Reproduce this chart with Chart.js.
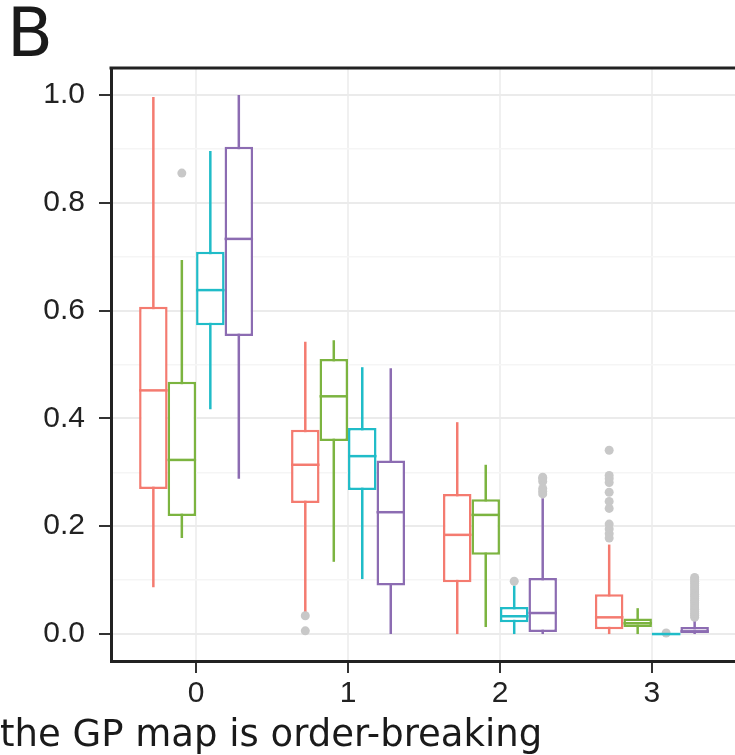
<!DOCTYPE html>
<html>
<head>
<meta charset="utf-8">
<script src="https://cdn.jsdelivr.net/npm/chart.js@4"></script>
<style>
  html, body { margin: 0; padding: 0; background: #fff; overflow: hidden; }
  #wrap { position: relative; width: 735px; height: 755px; overflow: hidden; }
  #c { position: absolute; left: 0; top: 0; }
  #panel { position: absolute; left: 7px; top: 0; font: 67px "DejaVu Sans"; line-height: 1; color: #1a1a1a; }
  #xtitle { position: absolute; left: 0; top: 715px; font: 37px "DejaVu Sans"; line-height: 1; color: #1a1a1a; white-space: nowrap; }
</style>
</head>
<body>
<div id="wrap">
  <canvas id="c" width="762" height="755"></canvas>
  <div id="panel">B</div>
  <div id="xtitle">the GP map is order-breaking</div>
</div>
<script>
// categories sur l'axe x
const categories = ['0', '1', '2', '3'];
const seriesColors = ['#F47B70', '#7CB440', '#20BCC8', '#8C6CB2'];

// stats des boites : une ligne par série (rouge, vert, cyan, violet), une colonne par catégorie
const lowerWhisker = [
  [0.087, 0.040, 0.000, 0.000],
  [0.178, 0.134, 0.013, 0.000],
  [0.417, 0.102, 0.000, 0.000],
  [0.288, 0.000, 0.000, 0.000]
];
const q1 = [
  [0.269, 0.243, 0.096, 0.009],
  [0.219, 0.358, 0.147, 0.013],
  [0.573, 0.267, 0.022, 0.000],
  [0.553, 0.090, 0.004, 0.000]
];
const medians = [
  [0.452, 0.314, 0.184, 0.031],
  [0.323, 0.441, 0.221, 0.020],
  [0.638, 0.330, 0.033, 0.000],
  [0.733, 0.226, 0.039, 0.005]
];
const q3 = [
  [0.607, 0.379, 0.260, 0.074],
  [0.468, 0.510, 0.250, 0.029],
  [0.709, 0.382, 0.050, 0.000],
  [0.904, 0.322, 0.104, 0.013]
];
const upperWhisker = [
  [0.996, 0.542, 0.393, 0.166],
  [0.694, 0.545, 0.314, 0.048],
  [0.896, 0.495, 0.090, 0.000],
  [1.000, 0.493, 0.252, 0.028]
];
const outliers = [
  [[], [0.034, 0.006], [], [0.341, 0.294, 0.288, 0.281, 0.263, 0.246, 0.233, 0.204, 0.195, 0.186, 0.178]],
  [[0.855], [], [], []],
  [[], [], [0.098], [0.002]],
  [[], [], [0.260, 0.265, 0.270, 0.283, 0.288, 0.291],
   [0.031, 0.035, 0.038, 0.042, 0.046, 0.050, 0.054, 0.058, 0.062, 0.066, 0.070, 0.074, 0.078, 0.082, 0.086, 0.090, 0.094, 0.098, 0.102, 0.105]]
];

// graduations de l'axe y
const yMajorTicks = [0, 0.2, 0.4, 0.6, 0.8, 1.0];
const yMinorTicks = [0.1, 0.3, 0.5, 0.7, 0.9];

const isMajor = v => yMajorTicks.some(t => Math.abs(t - v) < 1e-6);

// moustaches, points aberrants, médianes et bordure du haut
const boxPlugin = {
  id: 'boxExtras',
  beforeDatasetsDraw(chart) {
    const ctx = chart.ctx;
    const yScale = chart.scales.y;
    ctx.save();
    chart.data.datasets.forEach((ds, i) => {
      chart.getDatasetMeta(i).data.forEach((bar, j) => {
        ctx.strokeStyle = seriesColors[i];
        ctx.lineWidth = 2.5;
        ctx.beginPath();
        ctx.moveTo(bar.x, yScale.getPixelForValue(lowerWhisker[i][j]));
        ctx.lineTo(bar.x, yScale.getPixelForValue(upperWhisker[i][j]));
        ctx.stroke();
        ctx.fillStyle = '#C8C8C8';
        outliers[i][j].forEach(v => {
          ctx.beginPath();
          ctx.arc(bar.x, yScale.getPixelForValue(v), 4.5, 0, Math.PI * 2);
          ctx.fill();
        });
      });
    });
    ctx.restore();
  },
  afterDatasetsDraw(chart) {
    const ctx = chart.ctx;
    const yScale = chart.scales.y;
    ctx.save();
    chart.data.datasets.forEach((ds, i) => {
      chart.getDatasetMeta(i).data.forEach((bar, j) => {
        const py = yScale.getPixelForValue(medians[i][j]);
        ctx.strokeStyle = seriesColors[i];
        ctx.lineWidth = 2.5;
        ctx.beginPath();
        ctx.moveTo(bar.x - bar.width / 2, py);
        ctx.lineTo(bar.x + bar.width / 2, py);
        ctx.stroke();
      });
    });
    ctx.restore();
  },
  afterDraw(chart) {
    const ctx = chart.ctx;
    const a = chart.chartArea;
    ctx.save();
    ctx.strokeStyle = '#222';
    ctx.lineWidth = 3;
    ctx.beginPath();
    ctx.moveTo(a.left - 1.5, a.top);
    ctx.lineTo(a.right + 2, a.top);
    ctx.stroke();
    ctx.restore();
  }
};

const ctx = document.getElementById('c').getContext('2d');
const chart = new Chart(ctx, {
  type: 'bar',
  data: {
    datasets: seriesColors.map((col, i) => ({
      data: categories.map((c, j) => ({ x: j, y: [q1[i][j], q3[i][j]] })),
      backgroundColor: '#ffffff',
      borderColor: col,
      borderWidth: 2.5,
      borderSkipped: false
    }))
  },
  options: {
    responsive: false,
    devicePixelRatio: 1,
    animation: false,
    categoryPercentage: 0.75,
    barPercentage: 1,
    layout: { padding: { top: 68, right: 25, left: 0, bottom: 0 } },
    plugins: { legend: { display: false }, tooltip: { enabled: false } },
    scales: {
      x: {
        type: 'linear',
        min: -0.56,
        max: 3.56,
        offset: false,
        afterBuildTicks: s => { s.ticks = categories.map((c, j) => ({ value: j })); },
        afterFit: s => { s.height = 94; },
        ticks: {
          callback: v => categories[v],
          font: { family: 'Liberation Sans', size: 30 },
          color: '#222',
          padding: 3,
          maxRotation: 0
        },
        grid: { color: '#F0F0F0', lineWidth: 2, tickColor: '#333', tickLength: 12, tickWidth: 2, offset: false },
        border: { display: true, color: '#222', width: 3 }
      },
      y: {
        min: -0.05,
        max: 1.05,
        afterBuildTicks: s => {
          s.ticks = yMajorTicks.concat(yMinorTicks).sort((a, b) => a - b).map(v => ({ value: v }));
        },
        afterFit: s => { s.width = 111; },
        ticks: {
          callback: v => isMajor(v) ? v.toFixed(1) : '',
          font: { family: 'Liberation Sans', size: 30 },
          color: '#222',
          padding: 14
        },
        grid: {
          color: c => isMajor(c.tick.value) ? '#EBEBEB' : '#F5F5F5',
          lineWidth: c => isMajor(c.tick.value) ? 2 : 1.5,
          tickColor: c => isMajor(c.tick.value) ? '#333' : 'rgba(0,0,0,0)',
          tickLength: 12,
          tickWidth: 2
        },
        border: { display: true, color: '#222', width: 3 }
      }
    }
  },
  plugins: [boxPlugin]
});
</script>
</body>
</html>
